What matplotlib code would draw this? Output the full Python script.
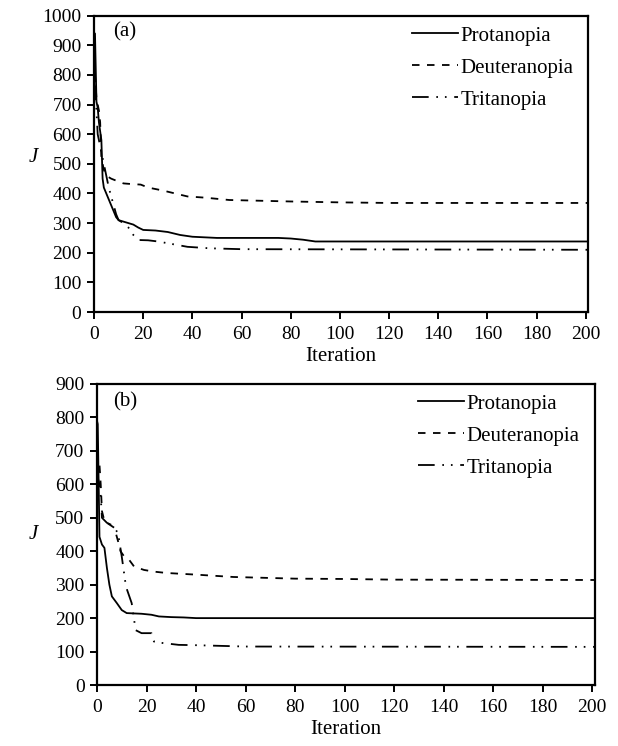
import matplotlib
matplotlib.use("Agg")
import matplotlib.pyplot as plt

plt.rcParams['font.family'] = ['Liberation Serif', 'DejaVu Serif']
plt.rcParams['lines.scale_dashes'] = False

# ---------------- data ----------------
series_names = ["Protanopia", "Deuteranopia", "Tritanopia"]

# Panel (a)
a_prot_x = [0, 0.4, 1, 1.5, 2, 3, 3.5, 4, 5, 6, 8, 9, 10, 12, 14, 16, 18, 20, 25, 30, 35, 40, 50, 60, 75, 80, 85, 90, 100, 150, 201]
a_prot_y = [940, 940, 710, 690, 640, 580, 450, 420, 400, 380, 340, 320, 310, 305, 300, 295, 285, 277, 275, 270, 260, 254, 250, 250, 250, 248, 244, 238, 238, 238, 238]

a_deut_x = [0, 0.5, 1, 2, 2.5, 3, 4, 5, 7, 10, 12, 15, 19, 22, 28, 33, 38, 45, 55, 70, 80, 100, 120, 201]
a_deut_y = [800, 790, 720, 680, 640, 520, 480, 460, 450, 440, 434, 432, 430, 420, 410, 400, 390, 386, 378, 375, 373, 370, 368, 368]

a_trit_x = [0, 0.5, 1, 1.5, 2, 3, 4, 5, 6, 8, 9, 10, 12, 14, 16, 18, 22, 26, 30, 38, 47, 60, 201]
a_trit_y = [770, 760, 680, 600, 580, 540, 500, 460, 420, 360, 330, 310, 300, 285, 260, 243, 242, 238, 232, 220, 215, 212, 210]

# Panel (b)
b_prot_x = [0, 0.3, 1, 2, 3, 4, 5, 6, 7, 8, 10, 12, 15, 18, 22, 25, 30, 35, 40, 201]
b_prot_y = [790, 780, 443, 420, 410, 350, 300, 265, 255, 245, 224, 215, 214, 213, 210, 205, 203, 202, 200, 200]

b_deut_x = [0, 0.3, 1, 1.5, 2, 3, 5, 7, 8.5, 9.5, 11, 13, 15, 19, 23, 28, 40, 55, 80, 100, 120, 201]
b_deut_y = [700, 680, 660, 600, 520, 490, 480, 470, 430, 400, 384, 374, 354, 344, 339, 335, 330, 323, 318, 317, 315, 314]

b_trit_x = [0, 0.3, 1, 1.5, 2, 4, 6, 7, 8.5, 10, 11.7, 14, 15.6, 18, 22, 23, 26, 33, 40, 50, 60, 201]
b_trit_y = [640, 620, 600, 563, 500, 485, 478, 470, 454, 384, 294, 245, 164, 155, 155, 130, 126, 120, 119, 117, 115, 114]

x_ticks = list(range(0, 201, 20))
a_yticks = list(range(0, 1001, 100))
b_yticks = list(range(0, 901, 100))

# ---------------- figure ----------------
W, H = 618, 746
fig = plt.figure(figsize=(W / 100, H / 100), dpi=100)

def frac(l, t, r, b):
    return [l / W, 1 - b / H, (r - l) / W, (b - t) / H]

ax_a = fig.add_axes(frac(94, 15.7, 588.3, 312))
ax_b = fig.add_axes(frac(97, 384, 594.7, 685))

styles = [
    dict(linestyle='-'),
    dict(dashes=(5.4, 5.4)),
    dict(dashes=(12.0, 5.5, 1.2, 5.0, 1.2, 5.5)),
]

FS_TICK = 14
FS_LAB = 15

def draw(ax, xs, ys, yticks, ymax, label, leg_anchor, jpos, lblpos):
    for x, y, st, nm in zip(xs, ys, styles, series_names):
        ax.plot(x, y, color='black', lw=1.3, label=nm, **st)
    ax.set_xlim(0, 201)
    ax.set_ylim(0, ymax)
    ax.set_xticks(x_ticks)
    ax.set_yticks(yticks)
    for s in ax.spines.values():
        s.set_linewidth(1.6)
    ax.tick_params(direction='out', length=5, width=1.4, labelsize=FS_TICK, pad=5)
    ax.tick_params(axis='y', pad=4)
    ax.set_xlabel("Iteration", fontsize=FS_LAB, labelpad=3)
    ax.set_ylabel("J", fontsize=FS_LAB, style='italic', rotation=0)
    ax.yaxis.set_label_coords(*jpos)
    ax.text(lblpos[0], lblpos[1], label, transform=ax.transAxes, fontsize=FS_LAB,
            ha='center', va='center')
    leg = ax.legend(loc='upper left', bbox_to_anchor=leg_anchor, frameon=False,
                    fontsize=FS_LAB, handlelength=2.2, handletextpad=0.12,
                    borderpad=0, borderaxespad=0, labelspacing=0.6)
    return leg

draw(ax_a, [a_prot_x, a_deut_x, a_trit_x], [a_prot_y, a_deut_y, a_trit_y],
     a_yticks, 1000, "(a)", ((412 - 94) / 494.3, (312 - 26) / 296.3),
     (-0.123, 0.49), (0.063, 0.946))
draw(ax_b, [b_prot_x, b_deut_x, b_trit_x], [b_prot_y, b_deut_y, b_trit_y],
     b_yticks, 900, "(b)", ((418 - 97) / 497.7, (685 - 394) / 301),
     (-0.128, 0.47), (0.056, 0.94))

fig.savefig("out.png", dpi=100)
